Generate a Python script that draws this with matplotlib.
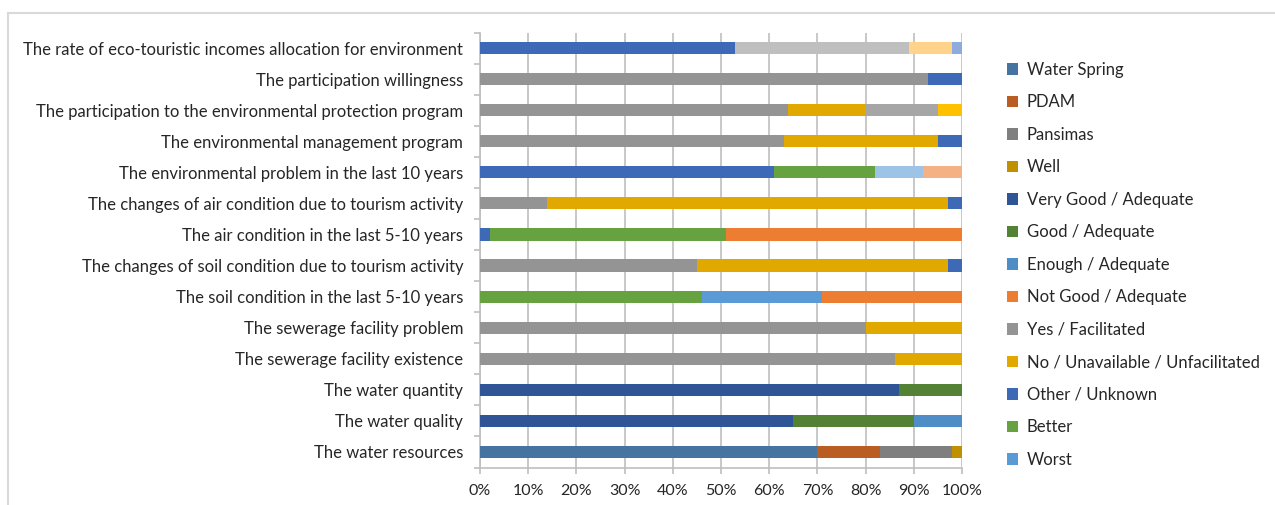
import numpy as np
import matplotlib
matplotlib.use("Agg")
import matplotlib.pyplot as plt
from matplotlib.lines import Line2D
from matplotlib.patches import Patch
from matplotlib.ticker import FuncFormatter, FixedLocator

plt.rcParams['font.family'] = ['Lato', 'DejaVu Sans']

# categories, bottom to top (as Excel draws them)
categories = [
    "The water resources",
    "The water quality",
    "The water quantity",
    "The sewerage facility existence",
    "The sewerage facility problem",
    "The soil condition in the last 5-10 years",
    "The changes of soil condition due to tourism activity",
    "The air condition in the last 5-10 years",
    "The changes of air condition due to tourism activity",
    "The environmental problem in the last 10 years",
    "The environmental management program",
    "The participation to the environmental protection program",
    "The participation willingness",
    "The rate of eco-touristic incomes allocation for environment",
]

# series values (% of respondents), one entry per category
water_spring = [70, 0, 0, 0, 0, 0, 0, 0, 0, 0, 0, 0, 0, 0]
pdam         = [13, 0, 0, 0, 0, 0, 0, 0, 0, 0, 0, 0, 0, 0]
pansimas     = [15, 0, 0, 0, 0, 0, 0, 0, 0, 0, 0, 0, 0, 0]
well         = [2, 0, 0, 0, 0, 0, 0, 0, 0, 0, 0, 0, 0, 0]
very_good    = [0, 65, 87, 0, 0, 0, 0, 0, 0, 0, 0, 0, 0, 0]
good         = [0, 25, 13, 0, 0, 0, 0, 0, 0, 0, 0, 0, 0, 0]
enough       = [0, 10, 0, 0, 0, 0, 0, 0, 0, 0, 0, 0, 0, 0]
yes_fac      = [0, 0, 0, 86, 80, 0, 45, 0, 14, 0, 63, 64, 93, 0]
no_fac       = [0, 0, 0, 14, 20, 0, 52, 0, 83, 0, 32, 16, 0, 0]
other        = [0, 0, 0, 0, 0, 0, 3, 2, 3, 61, 5, 0, 7, 53]
better       = [0, 0, 0, 0, 0, 46, 0, 49, 0, 21, 0, 0, 0, 0]
worst        = [0, 0, 0, 0, 0, 25, 0, 0, 0, 0, 0, 0, 0, 0]
not_good     = [0, 0, 0, 0, 0, 29, 0, 49, 0, 0, 0, 0, 0, 0]
# series that the original legend does not show
extra_gray   = [0, 0, 0, 0, 0, 0, 0, 0, 0, 0, 0, 15, 0, 0]
extra_yellow = [0, 0, 0, 0, 0, 0, 0, 0, 0, 0, 0, 5, 0, 0]
extra_lgray  = [0, 0, 0, 0, 0, 0, 0, 0, 0, 0, 0, 0, 0, 36]
extra_lorange = [0, 0, 0, 0, 0, 0, 0, 0, 0, 0, 0, 0, 0, 9]
extra_lavender = [0, 0, 0, 0, 0, 0, 0, 0, 0, 0, 0, 0, 0, 2]
extra_lblue  = [0, 0, 0, 0, 0, 0, 0, 0, 0, 10, 0, 0, 0, 0]
extra_salmon = [0, 0, 0, 0, 0, 0, 0, 0, 0, 8, 0, 0, 0, 0]

series = [
    ("Water Spring", water_spring, "#4674a0"),
    ("PDAM", pdam, "#b95d22"),
    ("Pansimas", pansimas, "#7f7f7f"),
    ("Well", well, "#bf9000"),
    ("Very Good / Adequate", very_good, "#2f5597"),
    ("Good / Adequate", good, "#548235"),
    ("Enough / Adequate", enough, "#4f8dc6"),
    ("Yes / Facilitated", yes_fac, "#949494"),
    ("No / Unavailable / Unfacilitated", no_fac, "#e1a900"),
    ("Other / Unknown", other, "#3e69b6"),
    ("Better", better, "#66a23f"),
    ("Worst", worst, "#5b9bd5"),
    ("Not Good / Adequate", not_good, "#ed7d31"),
    ("s14", extra_gray, "#a6a6a6"),
    ("s15", extra_yellow, "#ffc000"),
    ("s16", extra_lgray, "#bfbfbf"),
    ("s17", extra_lorange, "#ffd38a"),
    ("s18", extra_lavender, "#8faadc"),
    ("s19", extra_lblue, "#9dc3e6"),
    ("s20", extra_salmon, "#f4b183"),
]

# legend order as in the reference
legend_order = ["Water Spring", "PDAM", "Pansimas", "Well", "Very Good / Adequate",
                "Good / Adequate", "Enough / Adequate", "Not Good / Adequate",
                "Yes / Facilitated", "No / Unavailable / Unfacilitated",
                "Other / Unknown", "Better", "Worst"]

fig = plt.figure(figsize=(12.75, 5.05), dpi=100)
ax = fig.add_axes([480 / 1275, (505 - 467.5) / 505, 482 / 1275, 435 / 505])

y = np.arange(len(categories))
totals = np.sum([np.array(s[1], dtype=float) for s in series], axis=0)
left = np.zeros(len(categories))
colors = {}
for name, vals, col in series:
    v = np.array(vals, dtype=float) / totals * 100
    ax.barh(y, v, left=left, height=0.39, color=col, zorder=3)
    left += v
    colors[name] = col

ax.set_xlim(0, 100)
ax.set_ylim(-0.5, len(categories) - 0.5)
ax.set_xticks(np.arange(0, 101, 10))
ax.xaxis.set_major_formatter(FuncFormatter(lambda v, p: f"{int(v)}%"))
ax.set_yticks(y)
ax.set_yticklabels(categories)
ax.yaxis.set_minor_locator(FixedLocator(np.arange(-0.5, len(categories), 1)))

ax.grid(axis="x", color="#bfbfbf", linewidth=1.2, zorder=0)
for s in ["top", "right"]:
    ax.spines[s].set_visible(False)
for s in ["left", "bottom"]:
    ax.spines[s].set_color("#bfbfbf")
    ax.spines[s].set_linewidth(1.2)

ax.tick_params(axis="y", which="major", length=0, pad=12, labelsize=12, labelcolor="#262626")
ax.tick_params(axis="y", which="minor", length=4, color="#bfbfbf", width=1.2)
ax.tick_params(axis="x", which="major", length=4, color="#bfbfbf", width=1.2, pad=8,
               labelsize=11.5, labelcolor="#262626")

handles = [Patch(facecolor=colors[n], edgecolor="none") for n in legend_order]
fig.legend(handles, legend_order, loc="upper left", bbox_to_anchor=(1000 / 1275, 1 - 55 / 505),
           frameon=False, fontsize=12, handlelength=0.7, handleheight=0.7,
           handletextpad=0.5, labelspacing=0.99, labelcolor="#262626", borderaxespad=0)

# chart area border (only top and left edges are visible in the crop)
fig.add_artist(Line2D([8 / 1275, 8 / 1275], [0, 1 - 13 / 505], color="#d9d9d9", linewidth=1.5))
fig.add_artist(Line2D([8 / 1275, 1], [1 - 13 / 505, 1 - 13 / 505], color="#d9d9d9", linewidth=1.5))

fig.savefig("out.png", dpi=100, facecolor="white")
